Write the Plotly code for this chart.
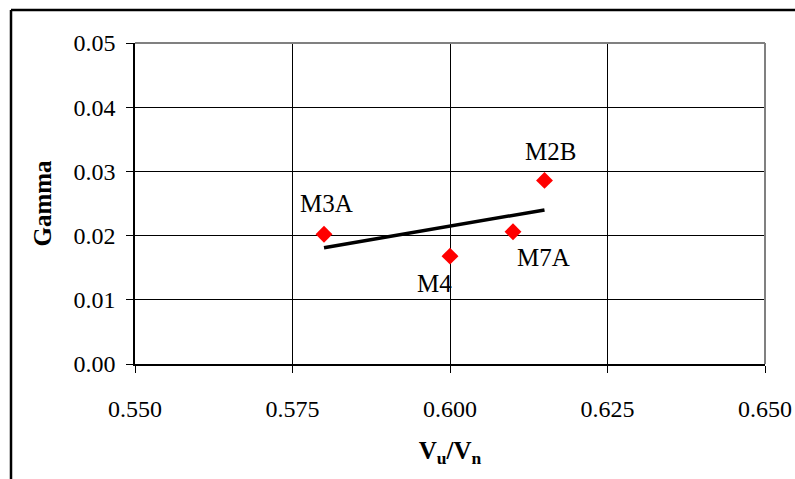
import plotly.graph_objects as go

# Data
names = ["M3A", "M4", "M7A", "M2B"]
vu_vn = [0.580, 0.600, 0.610, 0.615]
gamma = [0.0202, 0.0168, 0.0206, 0.0286]
trend_x = [0.580, 0.615]
trend_y = [0.0181, 0.0240]
x_ticks = [0.550, 0.575, 0.600, 0.625, 0.650]
x_ticklabels = ["0.550", "0.575", "0.600", "0.625", "0.650"]
y_ticks = [0.00, 0.01, 0.02, 0.03, 0.04, 0.05]
y_ticklabels = ["0.00", "0.01", "0.02", "0.03", "0.04", "0.05"]
label_shift = {"M3A": (2, 31), "M4": (-16, -27), "M7A": (30, -26), "M2B": (6, 29)}

FONT = "Liberation Serif"
W, H = 795, 479
L, R, T, B = 135, 30, 43, 115
pw, ph = W - L - R, H - T - B

fig = go.Figure()
fig.add_trace(go.Scatter(x=trend_x, y=trend_y, mode="lines",
                         line=dict(color="black", width=3.5), showlegend=False))
fig.add_trace(go.Scatter(x=vu_vn, y=gamma, mode="markers",
                         marker=dict(symbol="diamond", color="#ff0000", size=13),
                         showlegend=False))

for n, xv, yv in zip(names, vu_vn, gamma):
    dx, dy = label_shift[n]
    fig.add_annotation(x=xv, y=yv, text=n, showarrow=False, xshift=dx, yshift=dy,
                       font=dict(family=FONT, size=25, color="black"))

# figure frame (left & top visible)
fx = (11 - L) / pw
fy = 1 + (T - 10) / ph
fig.add_shape(type="line", xref="paper", yref="paper", x0=fx, x1=fx, y0=-1, y1=fy,
              line=dict(color="black", width=2.5))
fig.add_shape(type="line", xref="paper", yref="paper", x0=fx, x1=1.5, y0=fy, y1=fy,
              line=dict(color="black", width=2.5))
# plot area top/right border (gray)
fig.add_shape(type="line", xref="paper", yref="paper", x0=0, x1=1, y0=1, y1=1,
              line=dict(color="#808080", width=2))
fig.add_shape(type="line", xref="paper", yref="paper", x0=1, x1=1, y0=0, y1=1,
              line=dict(color="#808080", width=2))

fig.update_layout(
    width=W, height=H,
    margin=dict(l=L, r=R, t=T, b=B, autoexpand=False),
    paper_bgcolor="white", plot_bgcolor="white",
    font=dict(family=FONT, color="black", size=24),
    xaxis=dict(range=[0.550, 0.650], tickvals=x_ticks, ticktext=x_ticklabels,
               showgrid=True, gridcolor="black", gridwidth=1,
               showline=True, linecolor="black", linewidth=1.5,
               ticks="outside", ticklen=7, tickcolor="black",
               tickfont=dict(family=FONT, size=24, color="black"),
               ticklabelstandoff=15,
               zeroline=False, automargin=False,
               title=dict(text="<b>V<sub>u</sub>/V<sub>n</sub></b>",
                          font=dict(family=FONT, size=25), standoff=21)),
    yaxis=dict(range=[0.0, 0.05], tickvals=y_ticks, ticktext=y_ticklabels,
               showgrid=True, gridcolor="black", gridwidth=1,
               showline=True, linecolor="black", linewidth=1.5,
               ticks="outside", ticklen=7, tickcolor="black",
               tickfont=dict(family=FONT, size=24, color="black"),
               ticklabelstandoff=6,
               zeroline=False, automargin=False,
               title=dict(text="<b>Gamma</b>",
                          font=dict(family=FONT, size=25), standoff=15)),
)

fig.write_html("out.html", config={"displayModeBar": False},
               post_script="document.body.style.margin='0';document.body.style.overflow='hidden';")
